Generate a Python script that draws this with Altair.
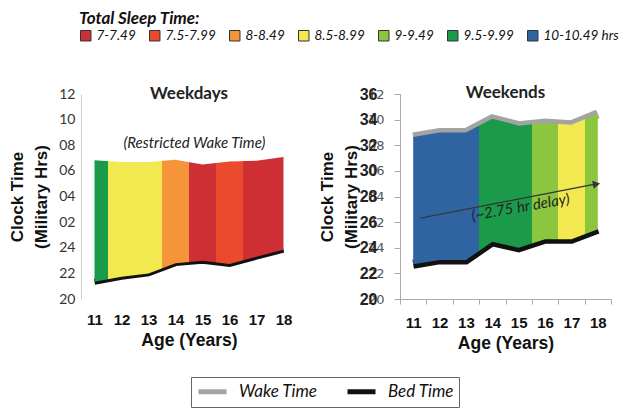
import altair as alt
import pandas as pd

# ---------------- data ----------------
ages = [11, 12, 13, 14, 15, 16, 17, 18]
weekday_wake = [30.82, 30.69, 30.69, 30.87, 30.50, 30.74, 30.79, 31.08]
weekday_bed = [21.35, 21.74, 22.00, 22.80, 22.98, 22.74, 23.30, 23.85]
weekend_wake = [32.65, 33.00, 33.00, 34.07, 33.53, 33.74, 33.60, 34.45]
weekend_bed = [22.71, 23.05, 23.05, 24.46, 24.00, 24.67, 24.67, 25.44]

sleep_categories = ["7-7.49", "7.5-7.99", "8-8.49", "8.5-8.99", "9-9.49", "9.5-9.99", "10-10.49 hrs"]
sleep_colors = ["#cd2f34", "#ec4a2c", "#f6943a", "#f1e94f", "#8cc63e", "#1b9a4a", "#2f64a0"]
weekday_sleep = ["9.5-9.99", "8.5-8.99", "8.5-8.99", "8-8.49", "7-7.49", "7.5-7.99", "7-7.49", "7-7.49"]
weekend_sleep = ["10-10.49 hrs", "10-10.49 hrs", "10-10.49 hrs", "9.5-9.99", "9.5-9.99", "9-9.49", "8.5-8.99", "9-9.49"]

line_series = ["Wake Time", "Bed Time"]
line_colors = ["#a3a3a3", "#111111"]

y_ticks = [20, 22, 24, 26, 28, 30, 32, 34, 36]
x_edges = [10.5, 11.5, 12.5, 13.5, 14.5, 15.5, 16.5, 17.5, 18.5]

restricted_note = "(Restricted Wake Time)"
delay_note = "(~2.75 hr delay)"

# ---------------- tables ----------------
wd = pd.DataFrame({"age": ages, "wake": weekday_wake, "bed": weekday_bed, "sleep": weekday_sleep})
we = pd.DataFrame({"age": ages, "wake": weekend_wake, "bed": weekend_bed, "sleep": weekend_sleep})
wd_lines = pd.DataFrame({"age": ages, "time": weekday_bed, "series": ["Bed Time"] * len(ages)})
we_lines = pd.DataFrame({
    "age": ages + ages,
    "time": weekend_wake + weekend_bed,
    "series": ["Wake Time"] * len(ages) + ["Bed Time"] * len(ages),
})

color_of = dict(zip(sleep_categories, sleep_colors))


def band_gradient(cats):
    n = len(cats) - 1
    stops = []
    for i, c in enumerate(cats):
        lo = max(i - 0.5, 0) / n
        hi = min(i + 0.5, n) / n
        stops.append(alt.GradientStop(color=color_of[c], offset=lo))
        stops.append(alt.GradientStop(color=color_of[c], offset=hi))
    return alt.Gradient(gradient="linear", stops=stops, x1=0, x2=1, y1=0, y2=0)


hour_expr = "datum.value > 24 ? ((datum.value - 24 < 10 ? '0' : '') + (datum.value - 24)) : ('' + datum.value)"

x_scale = alt.Scale(domain=[10.5, 18.5], nice=False, zero=False)
y_scale = alt.Scale(domain=[20, 36], nice=False, zero=False)
y_scale_b = alt.Scale(domain=[20, 36], nice=False, zero=False)

sleep_scale = alt.Scale(domain=sleep_categories, range=sleep_colors)
line_scale = alt.Scale(domain=line_series, range=line_colors)

top_legend = alt.Legend(
    title="Total Sleep Time:", orient="none", legendX=-2, legendY=-83, direction="horizontal",
    titleFont="Lato", titleFontSize=17, titleFontWeight="bold", titleFontStyle="italic", titleColor="#111",
    titleAnchor="start", titlePadding=1,
    labelFont="Lato", labelFontStyle="italic", labelFontSize=13.5, labelColor="#111", labelOffset=4,
    symbolType="square", symbolSize=110, symbolStrokeColor="#333", symbolStrokeWidth=1, symbolOpacity=1,
    columnPadding=11, padding=0,
)
bottom_legend = alt.Legend(
    title=None, orient="none", legendX=110, legendY=283, direction="horizontal",
    labelFont="Lato", labelFontStyle="italic", labelFontSize=17, labelColor="#111", labelOffset=24,
    symbolType="M-1,0H3", symbolStrokeWidth=5, symbolSize=196,
    columnPadding=19, strokeColor="#666", padding=5,
)

title_font = "Liberation Sans"

y_title = ["Clock Time", "(Military Hrs)"]

left_x_axis = alt.Axis(values=ages, ticks=False, domain=False, grid=False, format="d",
                       labelFont=title_font, labelFontWeight="bold", labelFontSize=15, labelColor="#111",
                       labelPadding=13, labelOverlap=False,
                       title="Age (Years)", titleFont=title_font, titleFontSize=17.5, titleFontWeight="bold",
                       titleColor="#111", titlePadding=4)
left_y_axis = alt.Axis(values=y_ticks, labelExpr=hour_expr, ticks=False, domainColor="#cccccc", grid=False,
                       labelFont="Lato", labelFontSize=14, labelColor="#333", labelPadding=6,
                       title=y_title, titleFont=title_font, titleFontSize=17, titleFontWeight="bold",
                       titleColor="#111", titlePadding=8, titleLineHeight=24)

right_x_axis = alt.Axis(values=sorted(ages + x_edges),
                        labelExpr="datum.value % 1 == 0 ? format(datum.value, 'd') : ''",
                        tickOpacity={"condition": {"test": "datum.value % 1 == 0", "value": 0}, "value": 1},
                        tickSize=5, tickColor="#aaaaaa", domainColor="#aaaaaa", grid=False, labelOverlap=False,
                        labelFont=title_font, labelFontWeight="bold", labelFontSize=15, labelColor="#111",
                        labelPadding=11,
                        title="Age (Years)", titleFont=title_font, titleFontSize=17.5, titleFontWeight="bold",
                        titleColor="#111", titlePadding=4)
right_y_axis = alt.Axis(values=y_ticks, labelExpr=hour_expr, orient="left", tickSize=6, tickColor="#aaaaaa",
                        domainColor="#aaaaaa", grid=False,
                        labelFont="DejaVu Sans", labelFontSize=13, labelColor="#555", labelPadding=10,
                        title=y_title, titleFont=title_font, titleFontSize=17, titleFontWeight="bold",
                        titleColor="#111", titlePadding=7, titleLineHeight=24)
bold_y_axis = alt.Axis(values=y_ticks, format="d", orient="left", domain=False, ticks=False, grid=False,
                       labelFont=title_font, labelFontWeight="bold", labelFontSize=16, labelColor="#222",
                       labelPadding=23, title=None)

# ---------------- weekdays ----------------
LX = alt.X("age:Q", scale=x_scale, axis=left_x_axis)

wd_bed_line = alt.Chart(wd_lines).mark_line(strokeWidth=6).encode(
    x=LX,
    y=alt.Y("time:Q", scale=y_scale, axis=left_y_axis),
    stroke=alt.Stroke("series:N", scale=line_scale, legend=bottom_legend),
)
wd_area = alt.Chart(wd).mark_area(color=band_gradient(weekday_sleep)).encode(
    x=LX,
    y=alt.Y("wake:Q", scale=y_scale, axis=left_y_axis),
    y2="bed:Q",
)
wd_keys = alt.Chart(wd).mark_square(opacity=0).encode(
    x=LX,
    y=alt.Y("wake:Q", scale=y_scale, axis=left_y_axis),
    color=alt.Color("sleep:N", scale=sleep_scale, legend=top_legend),
)
wd_note = alt.Chart(pd.DataFrame({"note": [restricted_note]})).mark_text(
    font="Lato", fontStyle="italic", fontSize=15, color="#222"
).encode(
    x=alt.X(datum=14.7, scale=x_scale, axis=left_x_axis),
    y=alt.Y(datum=32.2, scale=y_scale, axis=left_y_axis),
    text="note:N",
)

left = alt.layer(wd_bed_line, wd_area, wd_keys, wd_note).properties(
    width=216, height=205,
    title=alt.TitleParams("Weekdays", font="Lato", fontSize=17, fontWeight="bold", color="#222",
                          anchor="middle", offset=-16),
)

# ---------------- weekends ----------------
RX = alt.X("age:Q", scale=x_scale, axis=right_x_axis)

we_line = alt.Chart(we_lines).mark_line(strokeWidth=9).encode(
    x=RX,
    y=alt.Y("time:Q", scale=y_scale, axis=right_y_axis),
    stroke=alt.Stroke("series:N", scale=line_scale, legend=bottom_legend),
    detail="series:N",
)
we_area = alt.Chart(we).mark_area(color=band_gradient(weekend_sleep)).encode(
    x=RX,
    y=alt.Y("wake:Q", scale=y_scale, axis=right_y_axis),
    y2="bed:Q",
)
arrow_df = pd.DataFrame({"note": [delay_note]})
arrow_line = alt.Chart(arrow_df).mark_rule(color="#333", strokeWidth=1.2).encode(
    x=alt.X(datum=11.26, scale=x_scale, axis=right_x_axis),
    y=alt.Y(datum=26.3, scale=y_scale, axis=right_y_axis),
    x2=alt.datum(17.85),
    y2=alt.datum(28.95),
)
arrow_head = alt.Chart(arrow_df).mark_point(shape="triangle-right", filled=True, size=70, angle=349,
                                            color="#333", opacity=1).encode(
    x=alt.X(datum=17.95, scale=x_scale, axis=right_x_axis),
    y=alt.Y(datum=28.97, scale=y_scale, axis=right_y_axis),
)
arrow_text = alt.Chart(arrow_df).mark_text(font="Lato", fontStyle="italic", fontSize=15, color="#222",
                                           angle=350).encode(
    x=alt.X(datum=15.07, scale=x_scale, axis=right_x_axis),
    y=alt.Y(datum=27.17, scale=y_scale, axis=right_y_axis),
    text="note:N",
)
inner = alt.layer(we_line, we_area, arrow_line, arrow_head, arrow_text)
bold_axis = alt.Chart(we).mark_point(opacity=0).encode(
    x=RX,
    y=alt.Y("wake:Q", scale=y_scale_b, axis=bold_y_axis),
)
right = alt.layer(inner, bold_axis).resolve_scale(y="independent").properties(
    width=211, height=205,
    title=alt.TitleParams("Weekends", font="Lato", fontSize=17, fontWeight="bold", color="#222",
                          anchor="middle", offset=-16),
)

chart = alt.hconcat(left, right, spacing=103, bounds="flush").properties(
    padding={"left": 0, "top": 3, "right": 0, "bottom": 0}
).configure_view(strokeWidth=0)

chart.save("out.html", embed_options={"renderer": "svg", "actions": False})
